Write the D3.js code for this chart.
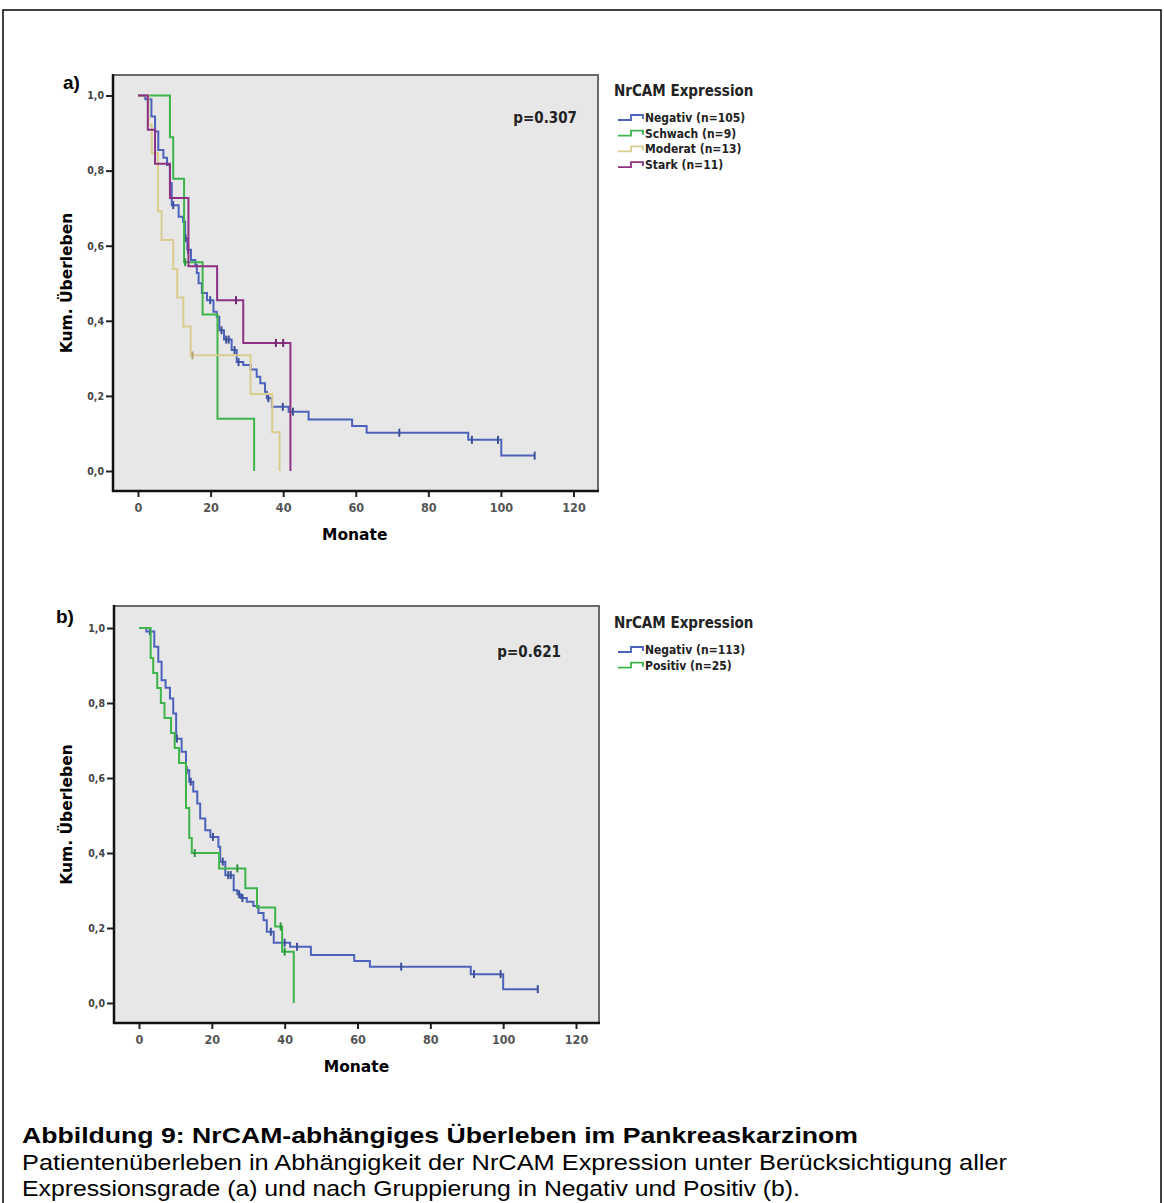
<!DOCTYPE html>
<html>
<head>
<meta charset="utf-8">
<script src="https://cdn.jsdelivr.net/npm/d3@7"></script>
<style>
  body { margin: 0; background: #fff; }
  svg text { font-family: "DejaVu Sans", sans-serif; }
</style>
</head>
<body>
<svg id="fig" width="1164" height="1203"></svg>
<script>
// ---- panel a: all expression grades (months, cum. survival after step) ----
var negA_t = [0, 2.0, 3.7, 4.7, 5.6, 7.0, 8.0, 8.8, 9.3, 11.2, 12.4, 13.0, 13.6, 14.6, 15.8, 16.2, 16.7, 17.6, 19.0, 20.8, 21.7, 22.4, 23.7, 25.8, 27.2, 29.0, 31.0, 32.7, 33.7, 35.0, 35.5, 36.9, 41.5, 47.0, 59.0, 63.0, 91.0, 100.1];
var negA_s = [1, 0.99, 0.944, 0.904, 0.855, 0.834, 0.815, 0.767, 0.708, 0.677, 0.664, 0.62, 0.589, 0.562, 0.549, 0.527, 0.5, 0.474, 0.455, 0.424, 0.411, 0.375, 0.35, 0.322, 0.29, 0.282, 0.27, 0.251, 0.234, 0.211, 0.194, 0.171, 0.158, 0.137, 0.12, 0.102, 0.083, 0.041];
var negA_c = [2.8, 9.7, 13.1, 13.8, 19.9, 23.0, 24.3, 25.0, 26.6, 27.7, 35.9, 39.9, 42.7, 72.0, 92.0, 99.2, 109.3];

var schA_t = [0, 8.8, 9.7, 12.7, 17.8, 21.9, 32.0];
var schA_s = [1, 0.889, 0.778, 0.556, 0.417, 0.139, 0];
var schA_c = [13.0];

var modA_t = [0, 2.9, 3.8, 5.5, 6.5, 9.7, 10.8, 12.5, 14.5, 31.0, 37.0, 39.0];
var modA_s = [1, 0.923, 0.846, 0.692, 0.615, 0.538, 0.462, 0.385, 0.308, 0.205, 0.103, 0];
var modA_c = [15.0];

var staA_t = [0, 2.7, 4.7, 8.8, 13.9, 21.8, 29.0, 42.0];
var staA_s = [1, 0.909, 0.818, 0.727, 0.545, 0.455, 0.341, 0];
var staA_c = [27.0, 38.0, 40.0];

// ---- panel b: negative vs positive ----
var negB_t = [0, 2.0, 4.2, 5.3, 6.2, 7.3, 8.5, 9.4, 10.2, 11.7, 12.9, 13.8, 14.9, 16.0, 16.8, 18.2, 19.6, 21.8, 22.3, 23.7, 26.0, 27.0, 28.0, 29.6, 31.4, 32.8, 34.2, 35.1, 37.0, 41.5, 47.2, 59.1, 63.4, 91.1, 100.0];
var negB_s = [1, 0.991, 0.95, 0.91, 0.861, 0.841, 0.812, 0.772, 0.705, 0.67, 0.621, 0.59, 0.564, 0.532, 0.492, 0.461, 0.443, 0.417, 0.377, 0.341, 0.301, 0.29, 0.28, 0.27, 0.259, 0.24, 0.221, 0.19, 0.161, 0.15, 0.128, 0.112, 0.097, 0.077, 0.037];
var negB_c = [3.0, 10.4, 13.1, 14.2, 20.3, 23.0, 24.5, 25.2, 27.5, 28.4, 36.2, 40.0, 43.4, 72.0, 92.0, 99.3, 109.5];

var posB_t = [0, 3.2, 3.9, 5.0, 6.0, 7.0, 8.8, 9.8, 11.0, 12.9, 13.8, 14.5, 22.0, 29.2, 32.4, 37.4, 39.3, 42.5];
var posB_s = [1, 0.92, 0.88, 0.84, 0.80, 0.76, 0.72, 0.68, 0.64, 0.52, 0.44, 0.40, 0.359, 0.306, 0.255, 0.204, 0.137, 0];
var posB_c = [15.3, 27.0, 38.9, 40.0];

var xTicks = [0, 20, 40, 60, 80, 100, 120];
var yTicks = [0, 0.2, 0.4, 0.6, 0.8, 1.0];

var legendTitle = "NrCAM Expression";
var labelsA = ["Negativ (n=105)", "Schwach (n=9)", "Moderat (n=13)", "Stark (n=11)"];
var labelsB = ["Negativ (n=113)", "Positiv (n=25)"];

var cBlue = "#4d63bb", cGreen = "#3db54a", cTan = "#d9cc8e", cPurple = "#8c3183";

var svg = d3.select("#fig");

// outer figure frame
svg.append("rect")
  .attr("x", 3).attr("y", 10)
  .attr("width", 1158).attr("height", 1260)
  .attr("fill", "none").attr("stroke", "#000").attr("stroke-width", 1.5);

function drawPanel(p) {
  var g = svg.append("g");
  var x = d3.scaleLinear().domain([0, 120]).range(p.xr);
  var y = d3.scaleLinear().domain([0, 1]).range(p.yr);

  g.append("rect")
    .attr("x", p.left).attr("y", p.top)
    .attr("width", p.right - p.left).attr("height", p.bottom - p.top)
    .attr("fill", "#e7e7e7").attr("stroke", "#6a6a6a").attr("stroke-width", 2);

  // axes
  var ya = g.append("g")
    .attr("transform", "translate(" + p.left + ",0)")
    .call(d3.axisLeft(y).tickValues(yTicks).tickSize(7).tickPadding(2)
      .tickFormat(function(d) { return d3.format(".1f")(d).replace(".", ","); }));
  ya.select(".domain").remove();
  ya.selectAll("line").attr("stroke", "#222").attr("stroke-width", 2);
  ya.selectAll("text").attr("font-size", 10.5).attr("font-weight", "bold").attr("fill", "#444")
    .style("font-family", "DejaVu Sans Condensed");

  var xa = g.append("g")
    .attr("transform", "translate(0," + p.bottom + ")")
    .call(d3.axisBottom(x).tickValues(xTicks).tickSize(6).tickPadding(6));
  xa.select(".domain").remove();
  xa.selectAll("line").attr("stroke", "#222").attr("stroke-width", 2);
  xa.selectAll("text").attr("font-size", 12.5).attr("font-weight", "bold").attr("fill", "#555")
    .style("font-family", "DejaVu Sans Condensed");

  g.append("line").attr("x1", p.left).attr("x2", p.left).attr("y1", p.top - 1).attr("y2", p.bottom + 1)
    .attr("stroke", "#111").attr("stroke-width", 2.5);
  g.append("line").attr("x1", p.left - 1).attr("x2", p.right + 1).attr("y1", p.bottom).attr("y2", p.bottom)
    .attr("stroke", "#111").attr("stroke-width", 2.5);

  // survival curves
  var line = d3.line()
    .x(function(d) { return x(d[0]); })
    .y(function(d) { return y(d[1]); })
    .curve(d3.curveStepAfter);

  p.series.forEach(function(s) {
    var pts = s.t.map(function(t, i) { return [t, s.s[i]]; });
    var end = Math.max(d3.max(s.t), d3.max(s.c));
    if (end > pts[pts.length - 1][0]) pts.push([end, s.s[s.s.length - 1]]);
    g.append("path").datum(pts)
      .attr("d", line)
      .attr("fill", "none").attr("stroke", s.color).attr("stroke-width", 2);
    s.c.forEach(function(c) {
      var v = s.s[d3.bisectRight(s.t, c) - 1];
      g.append("line")
        .attr("x1", x(c)).attr("x2", x(c))
        .attr("y1", y(v) - 4).attr("y2", y(v) + 4)
        .attr("stroke", d3.color(s.color).darker(0.6)).attr("stroke-width", 2);
    });
  });

  // labels
  g.append("text").attr("x", p.labelX).attr("y", p.labelY)
    .attr("font-size", 19).attr("font-weight", "bold")
    .style("font-family", "Liberation Sans Narrow, Liberation Sans")
    .text(p.label);

  g.append("text").attr("x", p.pX).attr("y", p.pY).attr("text-anchor", "end")
    .attr("font-size", 15).attr("font-weight", "bold").attr("fill", "#222")
    .style("font-family", "DejaVu Sans Condensed")
    .text(p.pText);

  g.append("text")
    .attr("transform", "translate(72," + ((p.top + p.bottom) / 2) + ") rotate(-90)")
    .attr("text-anchor", "middle")
    .attr("font-size", 15.5).attr("font-weight", "bold")
    .text("Kum. Überleben");

  g.append("text").attr("x", (p.xr[0] + p.xr[1]) / 2 - 1).attr("y", p.bottom + 49)
    .attr("text-anchor", "middle")
    .attr("font-size", 15.5).attr("font-weight", "bold")
    .text("Monate");

  // legend
  var lg = g.append("g").attr("transform", "translate(614," + p.legY + ")");
  lg.append("text").attr("x", 0).attr("y", 0)
    .attr("font-size", 15).attr("font-weight", "bold").attr("fill", "#222")
    .style("font-family", "DejaVu Sans Condensed")
    .text(legendTitle);
  p.series.forEach(function(s, i) {
    var ly = 22 + i * 15.7;
    lg.append("path")
      .attr("d", "M4," + (ly + 2) + "H17V" + (ly - 3) + "H29V" + (ly + 1))
      .attr("fill", "none").attr("stroke", s.color).attr("stroke-width", 1.8);
    lg.append("text").attr("x", 31).attr("y", ly + 4)
      .attr("font-size", 12).attr("font-weight", "bold").attr("fill", "#222")
      .style("font-family", "DejaVu Sans Condensed")
      .text(s.name);
  });
}

drawPanel({
  left: 113, right: 598, top: 75, bottom: 491,
  xr: [138, 573.5], yr: [471, 95.5],
  label: "a)", labelX: 63, labelY: 89,
  pText: "p=0.307", pX: 577, pY: 123,
  legY: 96,
  series: [
    { name: labelsA[0], t: negA_t, s: negA_s, c: negA_c, color: cBlue },
    { name: labelsA[1], t: schA_t, s: schA_s, c: schA_c, color: cGreen },
    { name: labelsA[2], t: modA_t, s: modA_s, c: modA_c, color: cTan },
    { name: labelsA[3], t: staA_t, s: staA_s, c: staA_c, color: cPurple }
  ]
});

drawPanel({
  left: 114, right: 599, top: 606, bottom: 1023,
  xr: [139, 576], yr: [1003, 628],
  label: "b)", labelX: 56, labelY: 623,
  pText: "p=0.621", pX: 561, pY: 657,
  legY: 628,
  series: [
    { name: labelsB[0], t: negB_t, s: negB_s, c: negB_c, color: cBlue },
    { name: labelsB[1], t: posB_t, s: posB_s, c: posB_c, color: cGreen }
  ]
});

// caption (widths)
var captionLines = [
  { text: "Abbildung 9: NrCAM-abhängiges Überleben im Pankreaskarzinom", bold: true, w: 836 },
  { text: "Patientenüberleben in Abhängigkeit der NrCAM Expression unter Berücksichtigung aller", bold: false, w: 985 },
  { text: "Expressionsgrade (a) und nach Gruppierung in Negativ und Positiv (b).", bold: false, w: 778 }
];
svg.append("g").selectAll("text").data(captionLines).enter().append("text")
  .attr("x", 22)
  .attr("y", function(d, i) { return 1143 + i * 26.5; })
  .attr("font-size", 22)
  .attr("font-weight", function(d) { return d.bold ? "bold" : "normal"; })
  .attr("textLength", function(d) { return d.w; })
  .attr("lengthAdjust", "spacingAndGlyphs")
  .style("font-family", "Liberation Sans, Arial, sans-serif")
  .text(function(d) { return d.text; });
</script>
</body>
</html>
